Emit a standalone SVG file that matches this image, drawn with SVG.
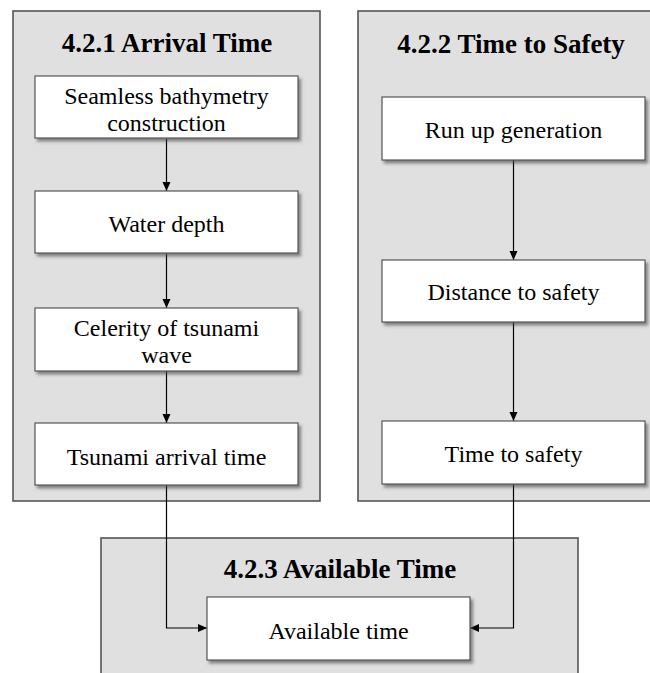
<svg xmlns="http://www.w3.org/2000/svg" width="650" height="673" viewBox="0 0 650 673">
  <style>
    .bg { fill: #ffffff; }
    .container { fill: #e0e0e0; stroke: #555555; stroke-width: 1.6; }
    .box { fill: #ffffff; stroke: #555555; stroke-width: 1.2; filter: url(#shadow); }
    text { font-family: "Liberation Serif", "Times New Roman", Times, "Noto Serif", "DejaVu Serif", serif; fill: #000000; text-anchor: middle; }
    .title { font-weight: bold; font-size: 27px; }
    .label { font-size: 24px; }
    .conn { fill: none; stroke: #000000; stroke-width: 1.2; marker-end: url(#arrow); }
  </style>
  <defs>
    <filter id="shadow" x="-10%" y="-20%" width="130%" height="160%">
      <feDropShadow dx="2.5" dy="3" stdDeviation="1.5" flood-color="#444444" flood-opacity="0.6"/>
    </filter>
    <marker id="arrow" markerWidth="10" markerHeight="10" refX="9" refY="4" orient="auto" markerUnits="userSpaceOnUse">
      <path d="M0,0 L9,4 L0,8 Z" fill="#000000"/>
    </marker>
  </defs>
  <rect class="bg" x="0" y="0" width="650" height="673"/>

  <g id="container-arrival">
    <rect class="container" x="13" y="11" width="307" height="490"/>
    <text class="title" x="167" y="52">4.2.1 Arrival Time</text>
  </g>
  <g id="container-safety">
    <rect class="container" x="358" y="11" width="320" height="490"/>
    <text class="title" x="511" y="53">4.2.2 Time to Safety</text>
  </g>
  <g id="container-available">
    <rect class="container" x="101" y="538" width="477" height="160"/>
    <text class="title" x="340" y="578">4.2.3 Available Time</text>
  </g>

  <g id="connectors">
    <path class="conn" d="M166.5,139 V191"/>
    <path class="conn" d="M166.5,254 V308"/>
    <path class="conn" d="M166.5,371 V423"/>
    <path class="conn" d="M513.5,160 V260"/>
    <path class="conn" d="M513.5,322 V421"/>
    <path class="conn" d="M166.5,485 V628 H207"/>
    <path class="conn" d="M513.5,484 V628 H470"/>
  </g>

  <g id="node-seamless">
    <rect class="box" x="35" y="76" width="263" height="62"/>
    <text class="label" x="166.5" y="104">Seamless bathymetry</text>
    <text class="label" x="166.5" y="131">construction</text>
  </g>
  <g id="node-water-depth">
    <rect class="box" x="35" y="191" width="263" height="62"/>
    <text class="label" x="166.5" y="232">Water depth</text>
  </g>
  <g id="node-celerity">
    <rect class="box" x="35" y="308" width="263" height="63"/>
    <text class="label" x="166.5" y="336">Celerity of tsunami</text>
    <text class="label" x="166.5" y="363">wave</text>
  </g>
  <g id="node-arrival-time">
    <rect class="box" x="35" y="423" width="263" height="62"/>
    <text class="label" x="166.5" y="465">Tsunami arrival time</text>
  </g>
  <g id="node-run-up">
    <rect class="box" x="382" y="97" width="263" height="63"/>
    <text class="label" x="513.5" y="138">Run up generation</text>
  </g>
  <g id="node-distance">
    <rect class="box" x="382" y="260" width="263" height="62"/>
    <text class="label" x="513.5" y="300">Distance to safety</text>
  </g>
  <g id="node-time-safety">
    <rect class="box" x="382" y="421" width="263" height="63"/>
    <text class="label" x="513.5" y="462">Time to safety</text>
  </g>
  <g id="node-available">
    <rect class="box" x="207" y="597" width="263" height="63"/>
    <text class="label" x="338.5" y="639">Available time</text>
  </g>
</svg>
